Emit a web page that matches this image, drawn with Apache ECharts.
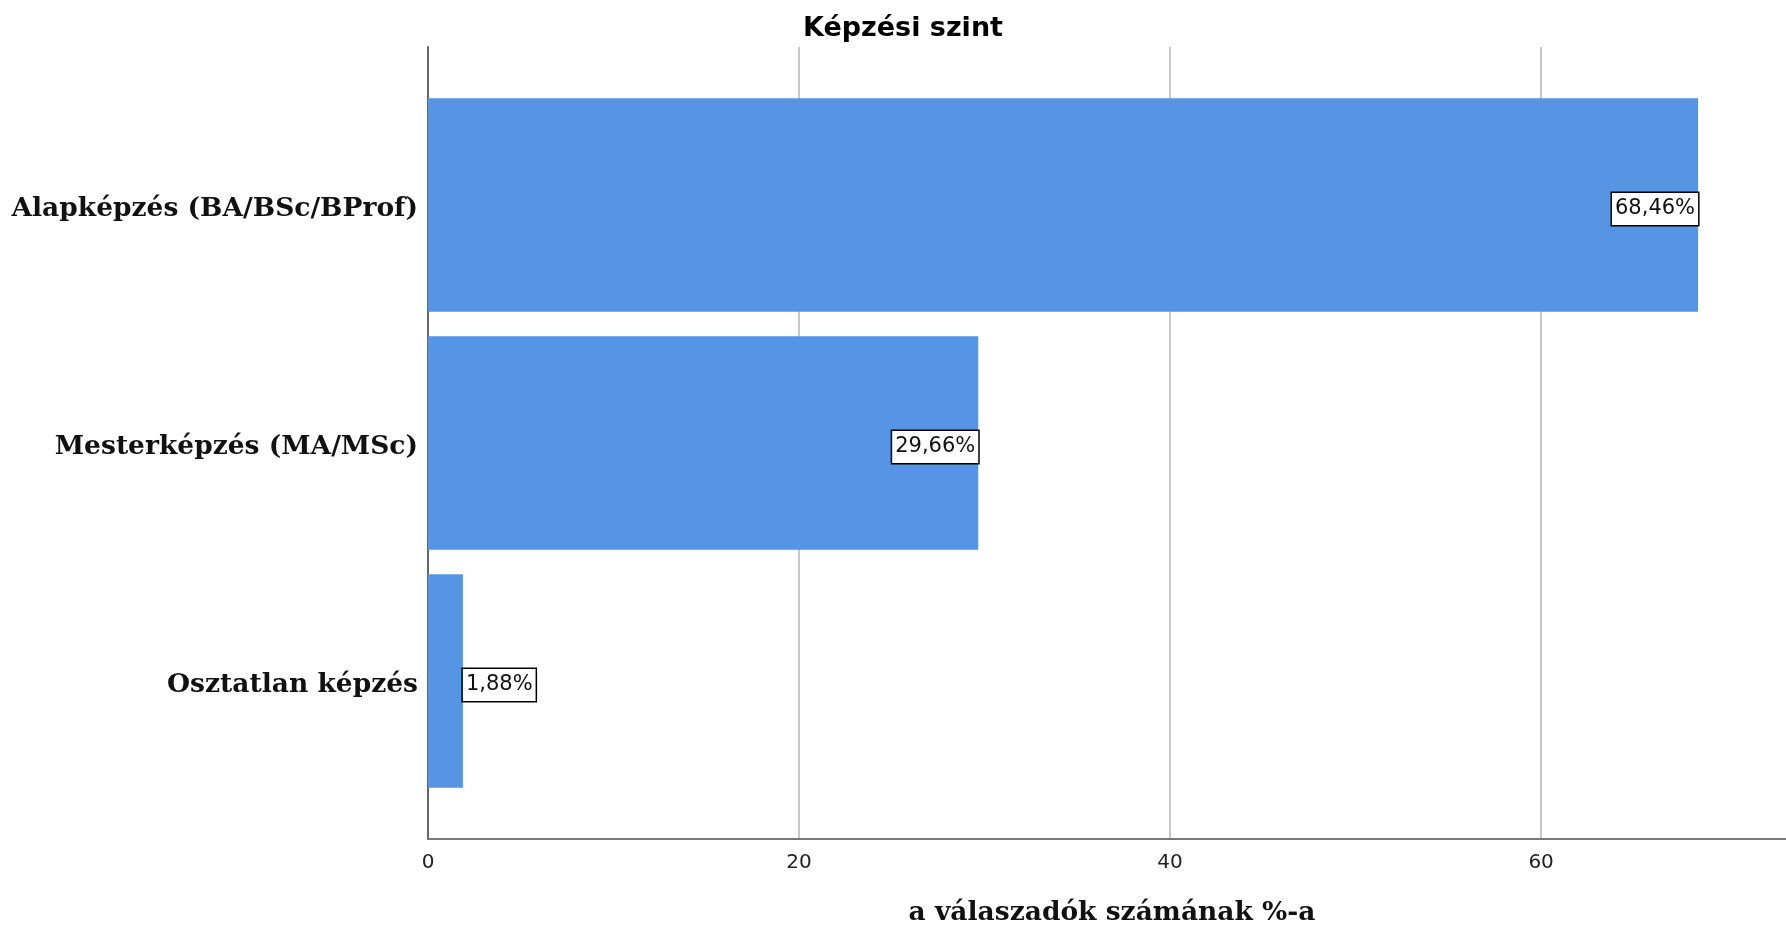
<!DOCTYPE html>
<html>
<head>
<meta charset="utf-8">
<script src="https://cdn.jsdelivr.net/npm/echarts@6/dist/echarts.min.js"></script>
<style>html,body{margin:0;padding:0;background:#fff;}#c{width:1786px;height:932px;}</style>
</head>
<body>
<div id="c"></div>
<script>
const categories = ['Alapképzés (BA/BSc/BProf)', 'Mesterképzés (MA/MSc)', 'Osztatlan képzés'];
const values = [68.46, 29.66, 1.88];
const xTicks = [0, 20, 40, 60];
const titleText = 'Képzési szint';
const xName = 'a válaszadók számának %-a';

const XMAX = 73.2;
const chart = echarts.init(document.getElementById('c'));
const serif = "'DejaVu Serif', 'Liberation Serif', serif";
const sans = "'DejaVu Sans', sans-serif";

const dataItems = values.map(v => ({
  value: v,
  label: { position: v < 10 ? 'right' : 'insideRight' }
}));

chart.setOption({
  animation: false,
  backgroundColor: '#fff',
  title: {
    text: titleText, left: 898, top: 10, textAlign: 'center',
    textStyle: { fontFamily: sans, fontWeight: 'bold', fontSize: 27, color: '#000' }
  },
  grid: [
    { left: 428, right: 0, top: 47, bottom: 93 },
    { left: 428, right: 0, top: 86, bottom: 132 }
  ],
  xAxis: [
    {
      gridIndex: 0, type: 'value', min: 0, max: XMAX, interval: 20,
      axisLine: { show: true, lineStyle: { color: '#777', width: 2 } },
      axisTick: { show: false },
      splitLine: { show: true, showMinLine: false, showMaxLine: false, lineStyle: { color: '#c8c8c8', width: 2 } },
      axisLabel: {
        showMaxLabel: false, margin: 14, fontFamily: sans, fontSize: 20, color: '#222',
        formatter: v => xTicks.indexOf(v) >= 0 ? String(v) : ''
      },
      name: xName, nameLocation: 'middle', nameGap: 61, nameTextStyle: {
        fontFamily: serif, fontWeight: 'bold', fontSize: 26.5, color: '#111',
        padding: [0, 0, 0, 10]
      }
    },
    {
      gridIndex: 1, type: 'value', min: 0, max: XMAX, show: false
    }
  ],
  yAxis: [
    {
      gridIndex: 0, type: 'value', min: 0, max: 1,
      axisLine: { show: true, lineStyle: { color: '#666', width: 2 } },
      axisTick: { show: false }, axisLabel: { show: false }, splitLine: { show: false }
    },
    {
      gridIndex: 1, type: 'category', data: categories, inverse: true,
      axisLine: { show: false }, axisTick: { show: false },
      axisLabel: {
        margin: 10,
        formatter: v => '{c|' + v + '}',
        rich: {
          c: { fontFamily: serif, fontWeight: 'bold', fontSize: 26.5, color: '#111', padding: [9, 0, 0, 0] }
        }
      }
    }
  ],
  series: [{
    type: 'bar', xAxisIndex: 1, yAxisIndex: 1,
    data: dataItems,
    barCategoryGap: '10.3%',
    itemStyle: { color: '#5595e3' },
    label: {
      show: true, distance: 0, offset: [0, 4],
      formatter: p => p.value.toFixed(2).replace('.', ',') + '%',
      fontFamily: sans, fontSize: 21, color: '#111',
      backgroundColor: '#fff', borderColor: '#000', borderWidth: 1.5,
      padding: [6, 3, 5, 3]
    }
  }]
});
</script>
</body>
</html>
